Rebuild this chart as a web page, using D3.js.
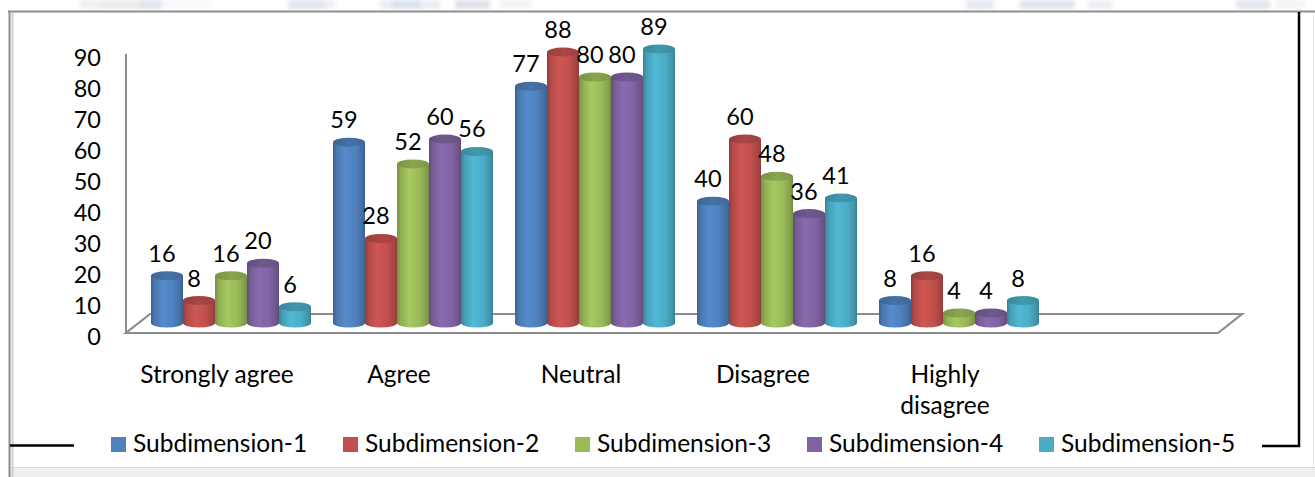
<!DOCTYPE html>
<html>
<head>
<meta charset="utf-8">
<script src="https://cdn.jsdelivr.net/npm/d3@7/dist/d3.min.js"></script>
<style>
  html, body { margin: 0; padding: 0; background: #fff; }
  svg { display: block; }
  text { font-family: Lato, "Open Sans", "Liberation Sans", sans-serif; fill: #000; }
</style>
</head>
<body>
<svg id="chart" width="1315" height="477"></svg>
<script>
// Response categories along the x axis
const categories = ["Strongly agree", "Agree", "Neutral", "Disagree", "Highly disagree"];
// Series names shown in the legend
const seriesNames = ["Subdimension-1", "Subdimension-2", "Subdimension-3", "Subdimension-4", "Subdimension-5"];
// Counts per series, one value per category
const sub1 = [16, 59, 77, 40, 8];
const sub2 = [8, 28, 88, 60, 16];
const sub3 = [16, 52, 80, 48, 4];
const sub4 = [20, 60, 80, 36, 4];
const sub5 = [6, 56, 89, 41, 8];
const seriesValues = [sub1, sub2, sub3, sub4, sub5];
// Value axis ticks
const yTicks = [0, 10, 20, 30, 40, 50, 60, 70, 80, 90];
const seriesColors = ["#4F81BD", "#C0504D", "#9BBB59", "#8064A2", "#4BACC6"];

const svg = d3.select("#chart");
const defs = svg.append("defs");

// --- page frame -------------------------------------------------------
defs.append("filter").attr("id", "soft")
  .attr("x", "-20%").attr("y", "-50%").attr("width", "140%").attr("height", "200%")
  .append("feGaussianBlur").attr("stdDeviation", 2.2);
const smudges = [
  [80, 30, "#efeceb"], [100, 40, "#ebe7e6"], [140, 22, "#d8dfe9"], [162, 50, "#f5f8fb"],
  [288, 38, "#dbe1ea"], [325, 10, "#e9edf3"], [380, 60, "#e6eaf2"], [392, 28, "#d4dcea"],
  [455, 35, "#d8dbe5"], [500, 30, "#eef1f5"], [966, 28, "#e0e5ed"], [1020, 55, "#d9dfea"],
  [1088, 25, "#e9ecf1"], [1236, 34, "#dde1e8"], [1275, 30, "#f0f2f4"]
];
svg.append("g").attr("filter", "url(#soft)").attr("opacity", 0.85)
  .selectAll("rect").data(smudges).join("rect")
  .attr("x", d => d[0]).attr("y", 0).attr("width", d => d[1]).attr("height", 9)
  .attr("fill", d => d[2]);

svg.append("rect").attr("x", 10).attr("y", 467).attr("width", 1305).attr("height", 10).attr("fill", "#efefef");
svg.append("line").attr("x1", 10).attr("x2", 1315).attr("y1", 467.5).attr("y2", 467.5).attr("stroke", "#dadada");
svg.append("line").attr("x1", 1313.5).attr("x2", 1313.5).attr("y1", 14).attr("y2", 467).attr("stroke", "#e6e6e6");
svg.append("rect").attr("x", 0).attr("y", 10).attr("width", 1315).attr("height", 3).attr("fill", "#fff");
svg.append("line").attr("x1", 8).attr("x2", 1315).attr("y1", 11.5).attr("y2", 11.5).attr("stroke", "#8d8d8d").attr("stroke-width", 2);
svg.append("line").attr("x1", 12.5).attr("x2", 12.5).attr("y1", 13).attr("y2", 477).attr("stroke", "#d0d0d0").attr("stroke-width", 2);
svg.append("line").attr("x1", 9.5).attr("x2", 9.5).attr("y1", 11).attr("y2", 477).attr("stroke", "#8d8d8d").attr("stroke-width", 2);

// --- scales -----------------------------------------------------------
const bandStep = 182;
const x = d3.scaleBand().domain(categories).range([126, 126 + bandStep * categories.length]).padding(0);
const xSeries = d3.scaleBand().domain(seriesNames).range([0, 160]).padding(0);
const depthX = 14;                 // horizontal shift of the bar row into depth
const groupPad = (bandStep - 160) / 2;
const yFront = d3.scaleLinear().domain([0, 90]).range([333, 54]);
const yBar = d3.scaleLinear().domain([0, 90]).range([325.4, 45.9]);
const barBase = 323;
const ry = 4.5;

// --- floor and value axis --------------------------------------------
const floorL = x.range()[0];
const floorR = x.range()[1] + bandStep;   // one spare slot on the right
const floorBack = { dx: 24, dy: -19 };
svg.append("path")
  .attr("d", `M${floorL},${yFront(0)} L${floorR},${yFront(0)} L${floorR + floorBack.dx},${yFront(0) + floorBack.dy} L${floorL + floorBack.dx},${yFront(0) + floorBack.dy} Z`)
  .attr("fill", "#fff").attr("stroke", "#8c8c8c").attr("stroke-width", 2.2).attr("stroke-linejoin", "miter");

svg.append("line")
  .attr("x1", floorL).attr("x2", floorL)
  .attr("y1", yFront(0)).attr("y2", yFront(90))
  .attr("stroke", "#8c8c8c").attr("stroke-width", 2);

svg.append("g").selectAll("text").data(yTicks).join("text")
  .attr("x", 101).attr("y", d => yFront(d) + 3)
  .attr("text-anchor", "end").attr("dominant-baseline", "central")
  .attr("font-size", 23.5)
  .text(d => d);

// --- cylinder gradients ------------------------------------------------
seriesColors.forEach((c, i) => {
  const base = d3.color(c);
  const g = defs.append("linearGradient").attr("id", "body" + i).attr("x1", 0).attr("x2", 1).attr("y1", 0).attr("y2", 0);
  g.append("stop").attr("offset", "0%").attr("stop-color", base.darker(0.75));
  g.append("stop").attr("offset", "12%").attr("stop-color", base.darker(0.2));
  g.append("stop").attr("offset", "38%").attr("stop-color", base.brighter(0.2));
  g.append("stop").attr("offset", "70%").attr("stop-color", base);
  g.append("stop").attr("offset", "92%").attr("stop-color", base.darker(0.45));
  g.append("stop").attr("offset", "100%").attr("stop-color", base.darker(0.8));
  const t = defs.append("linearGradient").attr("id", "top" + i).attr("x1", 0).attr("x2", 1).attr("y1", 0).attr("y2", 0);
  t.append("stop").attr("offset", "0%").attr("stop-color", base.darker(0.7));
  t.append("stop").attr("offset", "50%").attr("stop-color", base.darker(0.35));
  t.append("stop").attr("offset", "100%").attr("stop-color", base.darker(0.6));
});

// --- bars ---------------------------------------------------------------
const bars = [];
categories.forEach((cat, ci) => {
  seriesNames.forEach((s, si) => {
    bars.push({ cat, series: s, si, value: seriesValues[si][ci] });
  });
});

const barG = svg.append("g");
const bar = barG.selectAll("g").data(bars).join("g");
bar.each(function (d) {
  const g = d3.select(this);
  const w = xSeries.bandwidth();
  const x0 = x(d.cat) + groupPad + depthX + xSeries(d.series);
  const x1 = x0 + w;
  const rx = w / 2;
  const yt = yBar(d.value);
  g.append("path")
    .attr("d", `M${x0},${yt} L${x0},${barBase} A${rx},${ry} 0 0 0 ${x1},${barBase} L${x1},${yt} Z`)
    .attr("fill", `url(#body${d.si})`);
  g.append("ellipse")
    .attr("cx", x0 + rx).attr("cy", yt).attr("rx", rx).attr("ry", ry)
    .attr("fill", `url(#top${d.si})`);
});

// value labels
svg.append("g").selectAll("text").data(bars).join("text")
  .attr("x", d => x(d.cat) + groupPad + depthX + xSeries(d.series) + xSeries.bandwidth() / 2 - 5)
  .attr("y", d => yBar(d.value) - 14)
  .attr("text-anchor", "middle")
  .attr("font-size", 23.5)
  .text(d => d.value);

// --- category labels (long labels break onto two lines) -----------------
const maxLabelChars = 14;
const catText = svg.append("g").selectAll("text").data(categories).join("text")
  .attr("x", d => x(d) + x.bandwidth() / 2)
  .attr("y", 383)
  .attr("text-anchor", "middle")
  .attr("font-size", 24.5);
catText.each(function (d) {
  const t = d3.select(this);
  if (d.length > maxLabelChars) {
    d.split(" ").forEach((word, k) => {
      t.append("tspan").attr("x", x(d) + x.bandwidth() / 2).attr("dy", k === 0 ? 0 : 31).text(word);
    });
  } else {
    t.text(d);
  }
});

// --- legend -------------------------------------------------------------
const legend = svg.append("g").selectAll("g").data(seriesNames).join("g")
  .attr("transform", (d, i) => `translate(${111 + i * 232},437)`);
legend.append("rect").attr("width", 15).attr("height", 15).attr("fill", (d, i) => seriesColors[i]);
legend.append("text").attr("x", 22).attr("y", 15).attr("font-size", 24.5).text(d => d);

// legend rules
svg.append("path").attr("d", "M10,445.5 H74").attr("stroke", "#000").attr("stroke-width", 2.5).attr("fill", "none");
svg.append("path").attr("d", "M1262,446 H1299 V12").attr("stroke", "#000").attr("stroke-width", 2.5).attr("fill", "none");
</script>
</body>
</html>
